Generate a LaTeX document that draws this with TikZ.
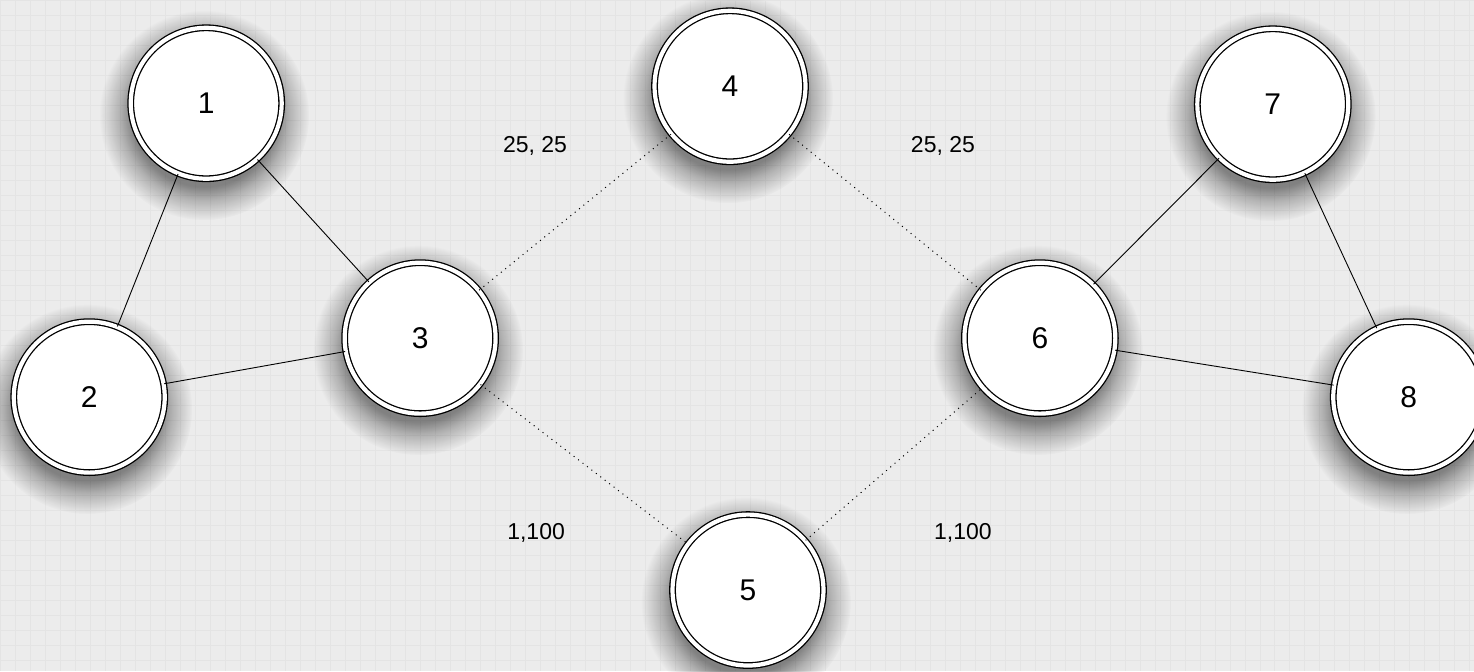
\documentclass[tikz,border=0pt]{standalone}
\usepackage{fontspec}
\setmainfont{Liberation Sans}
\usetikzlibrary{fadings}
\definecolor{bg}{HTML}{ECECEC}
\definecolor{gridc}{HTML}{E4E4E4}
\pgfdeclareradialshading{shfadesh}{\pgfpointorigin}{color(0bp)=(pgftransparent!55); color(17bp)=(pgftransparent!55); color(20bp)=(pgftransparent!75); color(25bp)=(pgftransparent!100); color(50bp)=(pgftransparent!100)}
\pgfdeclarefading{shfade}{\pgfuseshading{shfadesh}}
\begin{document}
\begin{tikzpicture}[x=1pt,y=-1pt,
  vertex/.style={circle, draw=black, line width=1.3pt, double=white, double distance=4.2pt,
    fill=white, minimum size=151pt, inner sep=0pt, font=\fontsize{30}{32}\selectfont},
  nodeshadow/.style={fill=black, path fading=shfade},
  solidedge/.style={draw=black, line width=0.9pt},
  dotedge/.style={draw=black, line width=1pt, dash pattern=on 1pt off 4.6pt},
  weight/.style={font=\fontsize{23}{25}\selectfont}]
\fill[bg] (0,0) rectangle (1474,671);
\foreach \gx in {0,15,...,1474} {\draw[gridc, line width=0.6pt] (\gx,0) -- (\gx,671);}
\foreach \gy in {0,15,...,671} {\draw[gridc, line width=0.6pt] (0,\gy) -- (1474,\gy);}
\useasboundingbox (0,0) rectangle (1474,671);
\foreach \sx/\sy in {206/103, 89/397, 420/338, 730/86, 748/590, 1040/338, 1273/104, 1409/397}
  {\path[nodeshadow] (\sx-2,\sy+12) circle (105);}
\node[vertex] (n1) at (206,103) {1};
\node[vertex] (n2) at (89,397) {2};
\node[vertex] (n3) at (420,338) {3};
\node[vertex] (n4) at (730,86) {4};
\node[vertex] (n5) at (748,590) {5};
\node[vertex] (n6) at (1040,338) {6};
\node[vertex] (n7) at (1273,104) {7};
\node[vertex] (n8) at (1409,397) {8};
\path[solidedge] (n1) -- (n2);
\path[solidedge] (n1) -- (n3);
\path[solidedge] (n2) -- (n3);
\path[solidedge] (n6) -- (n7);
\path[solidedge] (n6) -- (n8);
\path[solidedge] (n7) -- (n8);
\path[dotedge] (n3) -- (n4);
\path[dotedge] (n3) -- (n5);
\path[dotedge] (n4) -- (n6);
\path[dotedge] (n5) -- (n6);
\node[weight] (w1) at (535,146) {25, 25};
\node[weight] (w2) at (943,146) {25, 25};
\node[weight] (w3) at (536,533) {1,100};
\node[weight] (w4) at (963,533) {1,100};
\end{tikzpicture}
\end{document}
